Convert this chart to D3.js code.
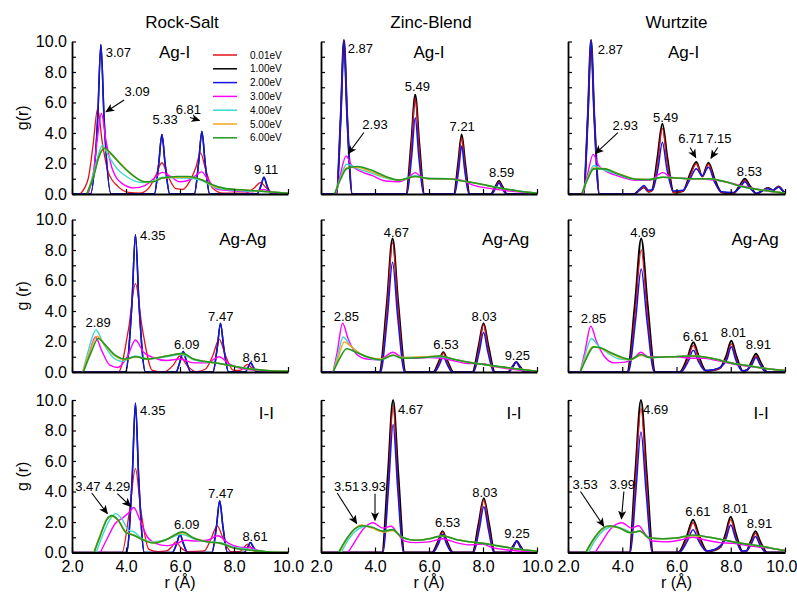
<!DOCTYPE html>
<html>
<head>
<meta charset="utf-8">
<script src="https://cdn.jsdelivr.net/npm/d3@7"></script>
<style>
  body { margin: 0; background: #fff; }
  text { font-family: "Liberation Sans", Arial, Helvetica, sans-serif; fill: #000; }
</style>
</head>
<body>
<svg id="chart" width="797" height="597"></svg>
<script>
// legend / series labels, same order in every panel array
const energies = ["0.01eV", "1.00eV", "2.00eV", "3.00eV", "4.00eV", "5.00eV", "6.00eV"];
const structures = ["Rock-Salt", "Zinc-Blend", "Wurtzite"];
const pairs = ["Ag-I", "Ag-Ag", "I-I"];
const yTickValues = [0, 1, 2, 3, 4, 5, 6, 7, 8, 9, 10];
const xTickValues = [2, 4, 6, 8, 10];

// ---- Rock-Salt Ag-I ----
const rsAgIBlue = [[2,0],[2.68,0],[2.95,4.9],[3.07,9.8],[3.19,4.9],[3.45,0],[5.05,0],[5.21,1.95],[5.33,3.9],[5.45,1.95],[5.62,0],[6.53,0],[6.69,2.05],[6.81,4.1],[6.93,2.05],[7.1,0],[8.85,0],[9.0,0.55],[9.11,1.1],[9.22,0.55],[9.38,0],[10,0]];
const rsAgI = [
  [[2.3,0],[2.6,1.0],[2.78,3.2],[2.95,5.6],[3.12,3.4],[3.35,1.4],[3.7,0.5],[4.1,0.1],[4.5,0.05],[4.85,0.4],[5.1,1.2],[5.33,2.05],[5.55,1.2],[5.85,0.35],[6.1,0.3],[6.35,0.8],[6.58,1.7],[6.76,2.7],[6.95,1.6],[7.2,0.4],[7.6,0.05],[8.4,0.05],[8.75,0.4],[8.98,0.75],[9.2,0.4],[9.5,0.05],[10,0]],
  rsAgIBlue,
  rsAgIBlue,
  [[2.6,0],[2.8,1.5],[2.95,3.8],[3.09,5.3],[3.25,3.6],[3.5,1.6],[3.85,0.7],[4.3,0.4],[4.7,0.55],[5.05,1.05],[5.35,1.42],[5.65,1.15],[6.0,0.8],[6.4,0.95],[6.8,1.45],[7.05,0.9],[7.4,0.3],[8.0,0.2],[8.7,0.15],[9.1,0.3],[9.4,0.1],[10,0.05]],
  [[2.55,0],[2.8,1.4],[2.98,2.6],[3.12,3.2],[3.35,2.5],[3.7,1.6],[4.1,1.05],[4.6,0.75],[5.0,0.85],[5.35,1.1],[6.0,1.05],[6.5,1.0],[6.85,0.85],[7.2,0.5],[7.6,0.3],[8.5,0.2],[9.2,0.15],[10,0.05]],
  [[2.55,0],[2.8,1.2],[3.0,2.5],[3.18,3.0],[3.45,2.6],[3.8,2.0],[4.2,1.3],[4.7,0.8],[5.0,0.8],[5.35,1.05],[5.9,1.1],[6.4,1.1],[6.85,0.9],[7.2,0.55],[7.7,0.35],[8.5,0.25],[9.3,0.15],[10,0.05]],
  [[2.55,0],[2.8,1.15],[3.0,2.45],[3.2,3.0],[3.45,2.65],[3.8,1.95],[4.2,1.3],[4.7,0.8],[5.0,0.8],[5.35,1.05],[5.9,1.15],[6.3,1.15],[6.85,0.9],[7.2,0.6],[7.7,0.35],[8.5,0.25],[9.3,0.15],[10,0.05]]
];

// ---- Zinc-Blend Ag-I ----
const zbAgI = [
  [[2,0],[2.57,0],[2.73,5.05],[2.85,10.1],[2.97,5.05],[3.16,0],[5.17,0],[5.35,3.15],[5.49,6.3],[5.63,3.15],[5.81,0],[6.94,0],[7.09,1.85],[7.21,3.7],[7.33,1.85],[7.49,0],[8.31,0],[8.46,0.4],[8.59,0.8],[8.72,0.4],[8.87,0],[10,0]],
  [[2,0],[2.57,0],[2.73,5.05],[2.85,10.1],[2.97,5.05],[3.16,0],[5.15,0],[5.34,3.3],[5.49,6.5],[5.64,3.3],[5.83,0],[6.92,0],[7.08,2.0],[7.21,3.9],[7.34,2.0],[7.51,0],[8.29,0],[8.45,0.45],[8.59,0.86],[8.73,0.45],[8.89,0],[10,0]],
  [[2,0],[2.58,0],[2.73,5.05],[2.85,10.1],[2.97,5.05],[3.15,0],[5.18,0],[5.36,2.5],[5.49,5.0],[5.62,2.5],[5.8,0],[6.95,0],[7.1,1.58],[7.21,3.15],[7.32,1.58],[7.48,0],[8.32,0],[8.47,0.36],[8.59,0.72],[8.71,0.36],[8.86,0],[10,0]],
  [[2.55,0],[2.72,1.3],[2.93,2.5],[3.12,1.9],[3.45,1.5],[3.9,1.2],[4.4,0.85],[4.9,0.8],[5.25,1.1],[5.49,1.4],[5.75,1.05],[6.2,1.0],[6.8,1.0],[7.2,0.9],[7.6,0.6],[8.3,0.35],[9.0,0.2],[10,0.05]],
  [[2.52,0],[2.72,1.1],[2.95,1.95],[3.3,1.7],[3.8,1.4],[4.4,1.05],[4.9,0.9],[5.49,1.2],[6.0,1.0],[6.7,1.0],[7.25,0.85],[7.9,0.65],[8.6,0.4],[9.3,0.2],[10,0.05]],
  [[2.52,0],[2.72,1.0],[2.95,1.72],[3.3,1.75],[3.8,1.5],[4.4,1.1],[4.9,0.9],[5.49,1.15],[6.0,1.0],[6.7,1.0],[7.25,0.85],[7.9,0.65],[8.6,0.4],[9.3,0.2],[10,0.05]],
  [[2.5,0],[2.72,0.95],[2.95,1.65],[3.35,1.8],[3.8,1.6],[4.4,1.15],[4.9,0.92],[5.49,1.15],[6.0,1.02],[6.7,1.0],[7.25,0.85],[7.9,0.65],[8.6,0.4],[9.3,0.2],[10,0.05]]
];

// ---- Wurtzite Ag-I ----
const wzAgI = [
  [[2,0],[2.57,0],[2.73,5.05],[2.85,10.1],[2.97,5.05],[3.16,0],[4.45,0],[4.63,0.25],[4.8,0.45],[4.97,0.15],[5.12,0.25],[5.31,2.15],[5.48,4.3],[5.65,2.15],[5.88,0.1],[6.25,0.2],[6.52,1.25],[6.73,2.0],[6.95,1.15],[7.18,1.95],[7.4,0.85],[7.65,0.1],[8.1,0.05],[8.35,0.5],[8.52,0.9],[8.7,0.45],[8.95,0.02],[9.15,0.2],[9.37,0.38],[9.56,0.25],[9.77,0.48],[9.95,0.15],[10,0.1]],
  [[2,0],[2.57,0],[2.73,5.05],[2.85,10.1],[2.97,5.05],[3.16,0],[4.44,0],[4.63,0.25],[4.8,0.45],[4.97,0.15],[5.1,0.25],[5.3,2.4],[5.48,4.6],[5.66,2.4],[5.9,0.1],[6.24,0.2],[6.51,1.35],[6.73,2.1],[6.95,1.15],[7.18,2.05],[7.41,0.95],[7.67,0.1],[8.1,0.05],[8.34,0.58],[8.52,1.0],[8.71,0.52],[8.96,0.02],[9.15,0.2],[9.37,0.4],[9.56,0.25],[9.77,0.5],[9.95,0.15],[10,0.1]],
  [[2,0],[2.58,0],[2.73,5.05],[2.85,10.1],[2.97,5.05],[3.15,0],[4.45,0],[4.63,0.3],[4.8,0.55],[4.97,0.25],[5.12,0.3],[5.32,1.7],[5.48,3.4],[5.64,1.7],[5.88,0.2],[6.25,0.25],[6.52,1.05],[6.73,1.65],[6.95,1.2],[7.18,1.75],[7.4,0.8],[7.65,0.15],[8.1,0.1],[8.35,0.45],[8.52,0.8],[8.7,0.4],[8.95,0.05],[9.15,0.2],[9.37,0.35],[9.56,0.25],[9.77,0.45],[9.95,0.15],[10,0.1]],
  [[2.55,0],[2.72,1.3],[2.93,2.6],[3.12,1.9],[3.45,1.45],[3.9,1.15],[4.5,0.9],[5.0,0.9],[5.5,1.4],[5.8,1.1],[6.5,1.0],[7.2,0.95],[7.8,0.8],[8.5,0.5],[9.2,0.25],[10,0.05]],
  [[2.52,0],[2.72,1.1],[2.95,1.85],[3.3,1.6],[3.8,1.3],[4.5,0.95],[5.0,0.95],[5.5,1.1],[6.5,1.0],[7.2,1.0],[7.8,0.8],[8.5,0.45],[9.2,0.25],[10,0.05]],
  [[2.52,0],[2.72,1.0],[2.95,1.7],[3.3,1.68],[3.8,1.38],[4.5,0.98],[5.0,0.95],[5.5,1.1],[6.5,1.0],[7.2,1.0],[7.8,0.8],[8.5,0.45],[9.2,0.25],[10,0.05]],
  [[2.5,0],[2.72,0.95],[2.95,1.65],[3.35,1.65],[3.8,1.35],[4.5,0.97],[5.0,0.95],[5.5,1.1],[6.5,1.0],[7.2,1.0],[7.8,0.8],[8.5,0.45],[9.2,0.25],[10,0.05]]
];

// ---- Rock-Salt Ag-Ag ----
const rsAgAgBlue = [[2,0],[3.98,0],[4.22,4.5],[4.35,9.0],[4.48,4.5],[4.72,0],[5.85,0],[6.0,0.68],[6.12,1.35],[6.24,0.68],[6.4,0],[7.22,0],[7.38,1.6],[7.5,3.2],[7.62,1.6],[7.8,0],[8.42,0],[8.52,0.3],[8.62,0.6],[8.72,0.3],[8.85,0],[10,0]];
const rsAgAg = [
  [[2,0],[3.72,0],[4.1,2.9],[4.35,5.8],[4.6,2.9],[4.98,0.1],[5.4,0],[5.75,0.45],[6.0,1.05],[6.25,0.45],[6.6,0.02],[6.95,0.2],[7.22,1.1],[7.45,2.15],[7.68,1.1],[7.98,0.1],[8.22,0.1],[8.5,0.5],[8.75,0.1],[9.0,0],[10,0]],
  rsAgAgBlue,
  rsAgAgBlue,
  [[2.4,0],[2.62,1.1],[2.87,2.3],[3.1,1.4],[3.4,0.45],[3.7,0.3],[4.05,1.0],[4.35,2.1],[4.65,1.3],[5.0,0.95],[5.5,0.75],[6.0,0.85],[6.5,0.6],[7.0,0.6],[7.45,1.0],[7.8,0.55],[8.2,0.25],[8.6,0.15],[9.2,0.05],[10,0]],
  [[2.4,0],[2.62,1.5],[2.89,2.75],[3.15,1.9],[3.5,1.0],[3.85,0.7],[4.35,1.05],[4.8,0.85],[5.5,1.0],[6.05,1.15],[6.5,0.8],[7.3,0.6],[7.8,0.45],[8.4,0.25],[9.2,0.1],[10,0.05]],
  [[2.4,0],[2.65,1.3],[2.93,2.35],[3.2,1.8],[3.6,1.05],[3.95,0.8],[4.35,1.0],[4.8,0.85],[5.5,1.05],[6.1,1.2],[6.5,0.85],[7.3,0.6],[7.8,0.45],[8.4,0.25],[9.2,0.1],[10,0.05]],
  [[2.42,0],[2.7,1.25],[2.97,2.2],[3.25,1.75],[3.6,1.1],[3.95,0.85],[4.35,1.0],[4.8,0.85],[5.5,1.05],[6.1,1.22],[6.5,0.85],[7.3,0.6],[7.8,0.45],[8.4,0.25],[9.2,0.1],[10,0.05]]
];

// ---- Zinc-Blend Ag-Ag ----
const zbAgAg = [
  [[2,0],[4.19,0],[4.45,4.25],[4.65,8.5],[4.85,4.25],[5.11,0],[6.19,0],[6.38,0.62],[6.53,1.25],[6.68,0.62],[6.87,0],[7.64,0],[7.85,1.55],[8.02,3.1],[8.19,1.55],[8.41,0],[8.95,0],[9.1,0.33],[9.23,0.65],[9.36,0.33],[9.52,0],[10,0]],
  [[2,0],[4.16,0],[4.44,4.5],[4.65,8.75],[4.86,4.5],[5.14,0],[6.16,0],[6.37,0.7],[6.53,1.3],[6.69,0.7],[6.9,0],[7.61,0],[7.84,1.7],[8.02,3.2],[8.2,1.7],[8.44,0],[8.93,0],[9.09,0.35],[9.23,0.66],[9.37,0.35],[9.54,0],[10,0]],
  [[2,0],[4.2,0],[4.46,3.6],[4.65,7.2],[4.84,3.6],[5.1,0],[6.2,0],[6.39,0.5],[6.53,1.0],[6.67,0.5],[6.86,0],[7.65,0],[7.86,1.3],[8.02,2.6],[8.18,1.3],[8.4,0],[8.95,0],[9.11,0.33],[9.23,0.65],[9.35,0.33],[9.52,0],[10,0]],
  [[2.45,0],[2.6,1.3],[2.8,3.2],[3.0,2.2],[3.3,1.2],[3.7,0.85],[4.15,0.8],[4.67,1.3],[5.0,0.95],[5.5,0.9],[6.0,0.95],[6.5,0.9],[7.0,0.7],[7.5,0.55],[8.0,0.55],[8.3,0.4],[9.0,0.2],[10,0.03]],
  [[2.45,0],[2.62,1.1],[2.82,2.3],[3.05,1.8],[3.4,1.25],[3.8,0.9],[4.2,0.8],[4.67,1.1],[5.0,0.95],[5.8,0.95],[6.4,1.0],[7.0,0.8],[7.6,0.6],[8.0,0.5],[8.6,0.35],[9.3,0.2],[10,0.05]],
  [[2.45,0],[2.64,0.95],[2.86,1.97],[3.1,1.7],[3.45,1.2],[3.8,0.95],[4.2,0.85],[4.67,1.1],[5.0,0.95],[5.8,1.0],[6.4,1.05],[7.0,0.8],[7.6,0.6],[8.0,0.5],[8.6,0.35],[9.3,0.2],[10,0.05]],
  [[2.45,0],[2.68,0.85],[2.95,1.52],[3.3,1.3],[3.7,1.0],[4.2,0.8],[4.67,1.1],[5.0,0.9],[5.8,0.95],[6.4,1.05],[7.0,0.8],[7.6,0.6],[8.0,0.5],[8.6,0.35],[9.3,0.2],[10,0.05]]
];

// ---- Wurtzite Ag-Ag ----
const wzAgAg = [
  [[2,0],[4.21,0],[4.48,4.0],[4.7,8.0],[4.92,4.0],[5.19,0],[6.14,0],[6.43,0.88],[6.62,1.75],[6.81,0.88],[7.06,0.08],[7.35,0.12],[7.6,0.25],[7.85,0.93],[8.02,1.85],[8.19,0.93],[8.43,0.06],[8.6,0.12],[8.77,0.53],[8.93,1.05],[9.09,0.53],[9.31,0],[10,0]],
  [[2,0],[4.18,0],[4.47,4.5],[4.7,8.75],[4.93,4.5],[5.22,0],[6.11,0],[6.42,1.02],[6.62,1.95],[6.82,1.02],[7.09,0.08],[7.35,0.12],[7.6,0.25],[7.84,1.08],[8.02,2.05],[8.2,1.08],[8.45,0.05],[8.6,0.12],[8.76,0.64],[8.93,1.2],[9.1,0.64],[9.34,0],[10,0]],
  [[2,0],[4.22,0],[4.49,3.38],[4.7,6.75],[4.91,3.38],[5.18,0],[6.15,0],[6.44,0.72],[6.62,1.42],[6.8,0.72],[7.05,0.1],[7.35,0.15],[7.6,0.3],[7.86,0.82],[8.02,1.65],[8.18,0.82],[8.42,0.08],[8.6,0.15],[8.78,0.48],[8.93,0.95],[9.08,0.48],[9.3,0],[10,0]],
  [[2.45,0],[2.62,1.3],[2.84,3.0],[3.05,2.0],[3.35,1.0],[3.7,0.6],[4.1,0.65],[4.45,0.95],[4.69,1.3],[4.95,1.0],[5.5,1.0],[6.0,1.0],[6.5,0.9],[7.0,0.9],[7.5,0.75],[8.0,0.55],[8.5,0.4],[9.2,0.25],[10,0.1]],
  [[2.45,0],[2.63,1.1],[2.86,2.2],[3.1,1.75],[3.5,1.2],[3.9,0.85],[4.3,0.8],[4.69,1.1],[5.0,0.95],[5.8,1.0],[6.6,1.05],[7.3,0.9],[8.0,0.6],[8.7,0.4],[9.4,0.2],[10,0.1]],
  [[2.45,0],[2.66,0.95],[2.92,1.65],[3.2,1.55],[3.6,1.2],[4.0,0.9],[4.3,0.8],[4.69,1.1],[5.0,0.95],[5.8,1.0],[6.6,1.05],[7.3,0.9],[8.0,0.6],[8.7,0.4],[9.4,0.2],[10,0.1]],
  [[2.45,0],[2.68,0.9],[2.95,1.65],[3.25,1.55],[3.6,1.25],[4.0,0.95],[4.3,0.82],[4.69,1.15],[5.0,0.95],[5.8,1.0],[6.6,1.05],[7.3,0.9],[8.0,0.6],[8.7,0.4],[9.4,0.2],[10,0.1]]
];

// ---- Rock-Salt I-I ----
const rsIIBlue = [[2,0],[4.02,0],[4.23,4.9],[4.35,9.8],[4.47,4.9],[4.68,0],[5.72,0],[5.88,0.6],[6.0,1.2],[6.12,0.6],[6.28,0],[7.18,0],[7.35,1.7],[7.47,3.4],[7.59,1.7],[7.76,0],[8.38,0],[8.5,0.33],[8.61,0.65],[8.72,0.33],[8.86,0],[10,0]];
const rsII = [
  [[2,0],[3.85,0],[4.13,2.75],[4.35,5.5],[4.55,2.75],[4.85,0.2],[5.2,0.05],[5.5,0.1],[5.68,0.35],[5.85,0.7],[6.02,0.35],[6.3,0.05],[6.9,0.1],[7.15,0.9],[7.38,1.75],[7.6,0.9],[7.9,0.05],[8.2,0.05],[8.35,0.28],[8.5,0.55],[8.65,0.28],[8.85,0],[10,0]],
  rsIIBlue,
  rsIIBlue,
  [[3.05,0],[3.3,0.9],[3.6,1.9],[3.9,2.3],[4.1,2.6],[4.29,2.95],[4.5,2.2],[4.8,1.0],[5.1,0.6],[5.5,0.45],[5.9,0.6],[6.2,0.8],[6.6,0.75],[7.0,0.8],[7.4,1.1],[7.8,0.6],[8.2,0.35],[8.6,0.3],[9.0,0.1],[9.5,0],[10,0]],
  [[2.9,0],[3.15,1.2],[3.42,2.2],[3.62,2.55],[3.85,2.2],[4.1,1.45],[4.3,1.35],[4.6,0.9],[5.0,0.7],[5.5,0.85],[6.05,1.2],[6.5,0.9],[7.0,0.7],[7.5,0.65],[8.0,0.35],[8.6,0.2],[9.2,0.05],[10,0]],
  [[2.8,0],[3.05,1.2],[3.3,2.2],[3.48,2.4],[3.7,2.1],[4.0,1.35],[4.3,1.15],[4.6,0.85],[5.0,0.65],[5.5,0.85],[6.09,1.3],[6.5,0.95],[7.0,0.7],[7.5,0.6],[8.0,0.3],[8.6,0.15],[9.2,0.05],[10,0]],
  [[2.82,0],[3.05,1.1],[3.3,2.2],[3.47,2.42],[3.7,2.15],[4.0,1.3],[4.3,1.12],[4.6,0.85],[5.0,0.62],[5.5,0.85],[6.09,1.35],[6.5,0.95],[7.0,0.7],[7.5,0.6],[8.0,0.3],[8.6,0.15],[9.2,0.05],[10,0]]
];

// ---- Zinc-Blend I-I ----
const zbII = [
  [[2,0],[4.29,0],[4.5,4.8],[4.67,9.6],[4.84,4.8],[5.06,0],[6.14,0],[6.35,0.67],[6.5,1.35],[6.65,0.67],[6.86,0],[7.64,0],[7.85,1.72],[8.03,3.45],[8.21,1.72],[8.41,0],[8.99,0],[9.12,0.37],[9.25,0.75],[9.38,0.37],[9.53,0],[10,0]],
  [[2,0],[4.26,0],[4.48,5.2],[4.67,10.0],[4.86,5.2],[5.09,0],[6.11,0],[6.34,0.75],[6.5,1.4],[6.66,0.75],[6.89,0],[7.61,0],[7.84,1.9],[8.03,3.55],[8.22,1.9],[8.44,0],[8.96,0],[9.11,0.4],[9.25,0.76],[9.39,0.4],[9.56,0],[10,0]],
  [[2,0],[4.3,0],[4.5,4.2],[4.67,8.4],[4.84,4.2],[5.05,0],[6.15,0],[6.36,0.6],[6.5,1.2],[6.64,0.6],[6.85,0],[7.65,0],[7.86,1.5],[8.03,3.0],[8.2,1.5],[8.4,0],[9.0,0],[9.13,0.37],[9.25,0.75],[9.37,0.37],[9.52,0],[10,0]],
  [[3.0,0],[3.25,0.7],[3.6,1.6],[3.93,1.95],[4.3,1.6],[4.6,1.72],[4.85,1.2],[5.1,0.75],[5.5,0.65],[6.0,0.7],[6.5,0.9],[7.0,0.65],[7.5,0.5],[8.0,0.55],[8.3,0.35],[9.0,0.15],[10,0.02]],
  [[2.75,0],[3.0,0.8],[3.35,1.5],[3.7,1.72],[4.1,1.5],[4.35,1.35],[4.65,1.5],[5.0,1.0],[5.5,0.8],[6.0,0.9],[6.5,1.1],[7.0,0.85],[7.5,0.7],[8.0,0.6],[8.5,0.45],[9.2,0.25],[10,0.08]],
  [[2.68,0],[2.95,0.85],[3.25,1.55],[3.5,1.8],[3.9,1.6],[4.3,1.35],[4.65,1.45],[5.0,1.0],[5.5,0.8],[6.0,0.9],[6.5,1.1],[7.0,0.85],[7.5,0.7],[8.0,0.6],[8.5,0.45],[9.2,0.25],[10,0.08]],
  [[2.65,0],[2.95,0.9],[3.25,1.55],[3.55,1.75],[3.9,1.65],[4.3,1.4],[4.65,1.5],[5.0,1.0],[5.5,0.8],[6.0,0.9],[6.5,1.1],[7.0,0.85],[7.5,0.7],[8.0,0.6],[8.5,0.45],[9.2,0.25],[10,0.08]]
];

// ---- Wurtzite I-I ----
const wzII = [
  [[2,0],[4.29,0],[4.49,4.72],[4.69,9.45],[4.89,4.72],[5.11,0],[6.09,0],[6.4,0.97],[6.61,1.95],[6.82,0.97],[7.11,0.08],[7.4,0.15],[7.62,0.35],[7.82,1.07],[8.0,2.15],[8.18,1.07],[8.41,0.05],[8.57,0.08],[8.75,0.62],[8.91,1.25],[9.07,0.62],[9.31,0],[10,0]],
  [[2,0],[4.26,0],[4.48,5.2],[4.69,10.0],[4.9,5.2],[5.14,0],[6.06,0],[6.39,1.12],[6.61,2.15],[6.83,1.12],[7.14,0.08],[7.4,0.15],[7.62,0.35],[7.81,1.22],[8.0,2.35],[8.19,1.22],[8.44,0.05],[8.57,0.08],[8.74,0.74],[8.91,1.4],[9.08,0.74],[9.34,0],[10,0]],
  [[2,0],[4.3,0],[4.5,3.95],[4.69,7.9],[4.88,3.95],[5.1,0],[6.1,0],[6.4,0.75],[6.61,1.5],[6.82,0.75],[7.1,0.1],[7.4,0.2],[7.62,0.45],[7.82,0.9],[8.0,1.8],[8.18,0.9],[8.4,0.1],[8.57,0.1],[8.75,0.52],[8.91,1.05],[9.07,0.52],[9.3,0],[10,0]],
  [[3.0,0],[3.25,0.7],[3.6,1.6],[3.99,1.95],[4.35,1.6],[4.6,1.75],[4.85,1.2],[5.1,0.75],[5.6,0.7],[6.1,0.8],[6.6,1.0],[7.1,0.8],[7.6,0.65],[8.1,0.6],[8.6,0.45],[9.3,0.3],[10,0.15]],
  [[2.75,0],[3.0,0.8],[3.35,1.5],[3.7,1.7],[4.1,1.5],[4.35,1.3],[4.65,1.4],[5.0,0.95],[5.5,0.9],[6.0,0.95],[6.6,1.1],[7.2,1.0],[7.8,0.8],[8.4,0.6],[9.0,0.45],[9.6,0.25],[10,0.12]],
  [[2.68,0],[2.95,0.85],[3.25,1.5],[3.5,1.72],[3.9,1.6],[4.3,1.3],[4.65,1.4],[5.0,0.95],[5.5,0.9],[6.0,0.95],[6.6,1.1],[7.2,1.0],[7.8,0.8],[8.4,0.6],[9.0,0.45],[9.6,0.25],[10,0.12]],
  [[2.65,0],[2.95,0.9],[3.25,1.55],[3.55,1.75],[3.9,1.6],[4.3,1.3],[4.65,1.4],[5.0,0.95],[5.5,0.9],[6.0,0.95],[6.6,1.15],[7.2,1.0],[7.8,0.8],[8.4,0.6],[9.0,0.45],[9.6,0.25],[10,0.12]]
];

// peak annotations: [label, r, g, optional arrow [r1,g1,r2,g2]]
const rsAgINotes = [["3.07",3.72,9.26],["3.09",4.41,6.73,[3.93,6.16,3.26,5.39]],["5.33",5.45,4.91],["6.81",6.31,5.57,[6.37,5.02,6.72,4.82]],["9.11",9.19,1.64]];
const zbAgINotes = [["2.87",3.46,9.52],["2.93",4.0,4.54,[3.59,4.03,3.01,2.65]],["5.49",5.57,7.04],["7.21",7.23,4.41],["8.59",8.69,1.4]];
const wzAgINotes = [["2.87",3.56,9.47],["2.93",4.11,4.47,[3.84,4.03,3.01,2.65]],["5.49",5.6,5.02],["6.71",6.53,3.66,[6.5,3.05,6.71,2.39]],["7.15",7.56,3.66,[7.52,3.05,7.27,2.35]],["8.53",8.69,1.47]];
const rsAgAgNotes = [["2.89",2.97,3.23],["4.35",4.99,8.96],["6.09",6.25,1.82],["7.47",7.51,3.66],["8.61",8.78,0.95]];
const zbAgAgNotes = [["2.85",2.94,3.66],["4.67",4.79,9.18],["6.53",6.63,1.78],["8.03",8.04,3.62],["9.25",9.27,1.1]];
const wzAgAgNotes = [["2.85",2.94,3.51],["4.69",4.76,9.18],["6.61",6.7,2.36],["8.01",8.1,2.62],["8.91",9.02,1.78]];
const rsIINotes = [["4.35",4.99,9.3],["3.47",2.59,4.33,[2.73,3.9,3.31,2.55]],["4.29",3.69,4.33,[3.68,3.86,4.17,3.03]],["6.09",6.25,1.83],["7.47",7.51,3.9],["8.61",8.78,1.07]];
const zbIINotes = [["4.67",5.32,9.41],["3.51",2.95,4.33,[2.6,3.9,3.32,1.9]],["3.93",3.94,4.33,[4.0,3.86,4.0,2.11]],["6.53",6.69,1.98],["8.03",8.07,3.97],["9.25",9.26,1.22]];
const wzIINotes = [["4.69",5.23,9.41],["3.53",2.63,4.44,[2.46,4.0,3.32,1.72]],["3.99",4.0,4.44,[4.06,4.0,3.97,2.2]],["6.61",6.79,2.66],["8.01",8.17,2.88],["8.91",9.06,1.9]];

// where the pair name sits in each panel (r per column, g per row)
const pairLabelR = [[5.8, 6.0, 6.26], [8.33, 8.84, 8.9], [9.2, 9.15, 9.12]];
const pairLabelG = [9.28, 8.7, 9.17];

const panelData = [
  [rsAgI, zbAgI, wzAgI],
  [rsAgAg, zbAgAg, wzAgAg],
  [rsII, zbII, wzII]
];
const panelNotes = [
  [rsAgINotes, zbAgINotes, wzAgINotes],
  [rsAgAgNotes, zbAgAgNotes, wzAgAgNotes],
  [rsIINotes, zbIINotes, wzIINotes]
];

// layout / style
const colors = ["#e3121a", "#000000", "#1414e6", "#ff00ff", "#3cd8cc", "#f5a623", "#1f9a22"];
const widths = [1.3, 2.0, 1.5, 1.4, 1.4, 1.5, 1.6];
const drawOrder = [1, 0, 2, 3, 4, 5, 6];
const colX = [72, 321, 568];
const colW = [216, 216, 217];
const rowY = [41.5, 219.5, 400];
const rowH = 152.5;

const svg = d3.select("#chart");

svg.append("defs").append("marker")
  .attr("id", "arrow")
  .attr("viewBox", "0 0 10 10")
  .attr("refX", 9).attr("refY", 5)
  .attr("markerWidth", 9).attr("markerHeight", 9)
  .attr("markerUnits", "userSpaceOnUse")
  .attr("orient", "auto")
  .append("path")
  .attr("d", "M0,0.5 L10,5 L0,9.5 L2.5,5 Z")
  .attr("fill", "#000");

const line = d3.line().curve(d3.curveMonotoneX);

pairs.forEach((pair, row) => {
  structures.forEach((struct, col) => {
    const x = d3.scaleLinear().domain([2, 10]).range([0, colW[col]]);
    const y = d3.scaleLinear().domain([0, 10]).range([rowH, 0]);
    const g = svg.append("g").attr("transform", `translate(${colX[col]},${rowY[row]})`);

    // curves
    const series = panelData[row][col];
    line.x(d => x(d[0])).y(d => y(d[1]));
    drawOrder.forEach(i => {
      // black shares blue's data in Rock-Salt: keep it thin there so no halo shows
      const w = (i === 1 && series[1] === series[2]) ? 1.5 : widths[i];
      g.append("path")
        .attr("d", line(series[i]))
        .attr("fill", "none")
        .attr("stroke", colors[i])
        .attr("stroke-width", w)
        .attr("stroke-linejoin", "round");
    });

    // axes
    const yAxis = d3.axisLeft(y).tickValues(yTickValues).tickSizeInner(-4).tickSizeOuter(0).tickPadding(5)
      .tickFormat(d => (col === 0 && d % 2 === 0) ? d3.format(".1f")(d) : "");
    const xAxis = d3.axisBottom(x).tickValues(xTickValues).tickSizeInner(-5).tickSizeOuter(0).tickPadding(8)
      .tickFormat(d => row === 2 ? d3.format(".1f")(d) : "");
    const ya = g.append("g").call(yAxis);
    const xa = g.append("g").attr("transform", `translate(0,${rowH})`).call(xAxis);
    [ya, xa].forEach(a => {
      a.select(".domain").attr("stroke-width", 1.8);
      a.selectAll(".tick line").attr("stroke-width", 1.2);
      a.selectAll("text").attr("font-size", 16).attr("font-family", "Liberation Sans, Arial, sans-serif");
    });
    // last label of the page sits against the right edge
    if (col === 2 && row === 2) {
      xa.selectAll(".tick text").filter(d => d === 10)
        .attr("text-anchor", "end").attr("x", 12);
    }

    // pair label
    g.append("text")
      .attr("x", x(pairLabelR[row][col]))
      .attr("y", y(pairLabelG[row]))
      .attr("dy", "0.35em")
      .attr("text-anchor", "middle")
      .attr("font-size", 17)
      .text(pair);

    // annotations
    panelNotes[row][col].forEach(n => {
      g.append("text")
        .attr("x", x(n[1])).attr("y", y(n[2]))
        .attr("dy", "0.35em")
        .attr("text-anchor", "middle")
        .attr("font-size", 13)
        .text(n[0]);
      if (n[3]) {
        const a = n[3];
        g.append("line")
          .attr("x1", x(a[0])).attr("y1", y(a[1]))
          .attr("x2", x(a[2])).attr("y2", y(a[3]))
          .attr("stroke", "#000").attr("stroke-width", 1.1)
          .attr("marker-end", "url(#arrow)");
      }
    });

    // column titles and axis titles
    if (row === 0) {
      svg.append("text")
        .attr("x", colX[col] + colW[col] / 2 + [2, 2, 0][col])
        .attr("y", 22).attr("dy", "0.35em")
        .attr("text-anchor", "middle").attr("font-size", 17)
        .text(struct);
    }
    if (row === 2) {
      svg.append("text")
        .attr("x", colX[col] + colW[col] / 2)
        .attr("y", 582).attr("dy", "0.35em")
        .attr("text-anchor", "middle").attr("font-size", 16)
        .text("r (Å)");
    }
  });

  // y axis title
  const cy = rowY[row] + rowH / 2;
  svg.append("text")
    .attr("transform", `translate(22,${cy}) rotate(-90)`)
    .attr("dy", "0.35em")
    .attr("text-anchor", "middle").attr("font-size", 16)
    .text(row === 0 ? "g(r)" : "g (r)");
});

// legend (top-left panel)
const legend = svg.append("g").attr("transform", "translate(213,55)");
energies.forEach((e, i) => {
  const ly = i * 13.8;
  legend.append("line")
    .attr("x1", 0).attr("x2", 24).attr("y1", ly).attr("y2", ly)
    .attr("stroke", colors[i]).attr("stroke-width", 1.5);
  legend.append("text")
    .attr("x", 37).attr("y", ly).attr("dy", "0.35em")
    .attr("font-size", 10)
    .text(e);
});
</script>
</body>
</html>
